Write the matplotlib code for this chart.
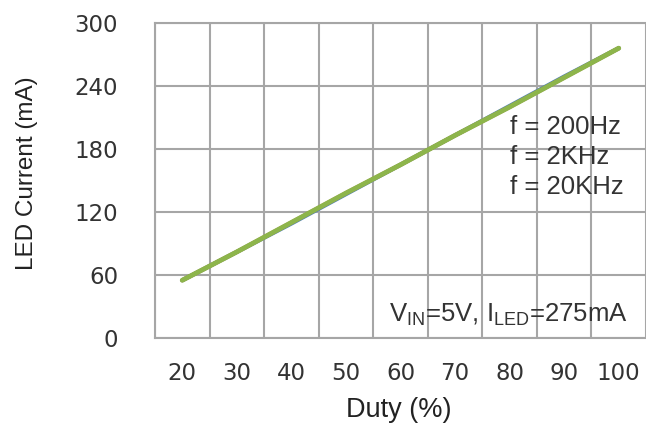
import matplotlib.pyplot as plt
import numpy as np

from matplotlib import rcParams
rcParams['font.family'] = 'DejaVu Sans'
rcParams['mathtext.fontset'] = 'custom'
rcParams['mathtext.rm'] = 'Liberation Sans'

duty = [20, 30, 40, 50, 60, 70, 80, 90, 100]
i_200hz = [55, 82, 109, 137, 165, 193, 221, 249, 276]
i_2khz = [55, 82, 110, 138, 165, 193, 220, 248, 276]
i_20khz = [55, 82, 110, 138, 165, 193, 220, 248, 276]

fig = plt.figure(figsize=(6.46, 4.28), dpi=100)
ax = fig.add_axes([155/646, 90/428, 491/646, 315/428])

grid_c = '#a6a6a6'
ax.plot(duty, i_200hz, color='#4f81bd', linewidth=3, solid_capstyle='round')
ax.plot(duty, i_2khz, color='#c0504d', linewidth=3, solid_capstyle='round')
ax.plot(duty, i_20khz, color='#8db54b', linewidth=3.5, solid_capstyle='round')

ax.set_xlim(15, 105)
ax.set_ylim(0, 300)
ax.set_xticks(duty)
ax.set_xticks(np.arange(15, 106, 10), minor=True)
ax.set_yticks([0, 60, 120, 180, 240, 300])
ax.grid(True, which='minor', axis='x', color=grid_c, linewidth=1.5)
ax.grid(True, which='major', axis='y', color=grid_c, linewidth=1.5)
ax.set_axisbelow(True)
ax.tick_params(which='both', length=0)
ax.tick_params(axis='y', pad=26.5, labelsize=16.5, labelcolor='#333333')
ax.tick_params(axis='x', pad=17, labelsize=16.5, labelcolor='#333333')
for s in ['left', 'bottom', 'top']:
    ax.spines[s].set_color(grid_c)
    ax.spines[s].set_linewidth(1.5)
ax.spines['right'].set_visible(False)

fig.text(399/646, 1 - 410/428, 'Duty (%)', fontsize=19.5, family='Liberation Sans',
         color='#222222', ha='center', va='center')
fig.text(27/646, 1 - 173/428, 'LED Current (mA)', fontsize=17.5, family='Liberation Sans',
         color='#222222', ha='center', va='center', rotation=90)

for k, lab in enumerate(['f = 200Hz', 'f = 2KHz', 'f = 20KHz']):
    ax.text(80, 201 - k * 28.5, lab, fontsize=18.5, family='Liberation Sans',
            color='#333333', va='center', ha='left')
ax.text(101.7, 22, r'V$_{\mathrm{IN}}$=5V, I$_{\mathrm{LED}}$=275mA', fontsize=18.5,
        family='Liberation Sans', color='#333333', ha='right', va='center')

plt.savefig('out.png', dpi=100)
